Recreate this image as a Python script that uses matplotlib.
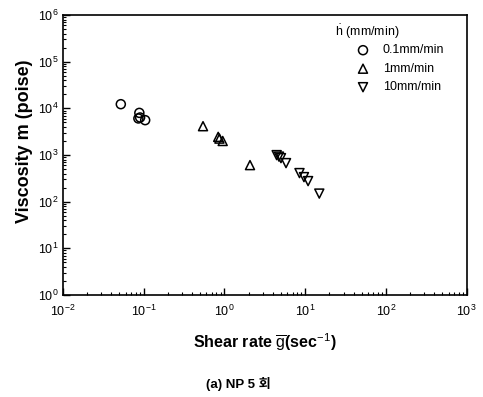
import matplotlib.pyplot as plt
from matplotlib.ticker import LogLocator, NullFormatter

plt.rcParams['font.family'] = ['Liberation Sans', 'DejaVu Sans']
plt.rcParams['mathtext.fontset'] = 'custom'
plt.rcParams['mathtext.rm'] = 'Liberation Sans'
plt.rcParams['mathtext.it'] = 'Liberation Sans:italic'
plt.rcParams['mathtext.bf'] = 'Liberation Sans:bold'

# shear rate (1/s) and viscosity (poise) for each crosshead speed
rate_01 = [0.0523, 0.0887, 0.0906, 0.1047, 0.0863]
visc_01 = [12300, 8010, 6380, 5590, 6080]

rate_1 = [0.545, 0.84, 0.87, 0.955, 2.08]
visc_1 = [4150, 2450, 2250, 2000, 608]

rate_10 = [4.45, 4.75, 5.03, 5.81, 8.53, 9.69, 10.9, 15.0]
visc_10 = [995, 924, 858, 671, 410, 336, 276, 149]

labels = ['0.1mm/min', '1mm/min', '10mm/min']

fig = plt.figure(figsize=(4.83, 3.97), dpi=100)
ax = fig.add_axes([0.130, 0.257, 0.836, 0.705])

kw = dict(facecolor='none', edgecolor='black', linewidths=1.1, s=42)
ax.scatter(rate_01, visc_01, marker='o', label=labels[0], **kw)
ax.scatter(rate_1, visc_1, marker='^', label=labels[1], **kw)
ax.scatter(rate_10, visc_10, marker='v', label=labels[2], **kw)

ax.set_xscale('log')
ax.set_yscale('log')
ax.set_xlim(1e-2, 1e3)
ax.set_ylim(1e0, 1e6)

ax.xaxis.set_major_locator(LogLocator(base=10, numticks=10))
ax.yaxis.set_major_locator(LogLocator(base=10, numticks=10))
ax.xaxis.set_minor_locator(LogLocator(base=10, subs=range(2, 10), numticks=20))
ax.yaxis.set_minor_locator(LogLocator(base=10, subs=range(2, 10), numticks=20))
ax.xaxis.set_minor_formatter(NullFormatter())
ax.yaxis.set_minor_formatter(NullFormatter())

ax.tick_params(which='both', direction='in', top=False, right=False, labelsize=9)
ax.tick_params(axis='x', pad=6)
ax.tick_params(axis='y', pad=3)
ax.tick_params(which='major', length=5, width=1)
ax.tick_params(which='minor', length=2.5, width=0.8)
for sp in ax.spines.values():
    sp.set_linewidth(1.2)

ax.set_xlabel(r'Shear rate $\overline{\mathrm{g}}$(sec$^{-1}$)', fontsize=11.5,
              fontweight='bold', labelpad=9)
ax.set_ylabel('Viscosity m (poise)', fontsize=13, fontweight='bold')
ax.yaxis.set_label_coords(-0.074, 0.55)

ax.text(0.674, 0.939, r'$\dot{\mathrm{h}}$ (mm/min)', transform=ax.transAxes,
        fontsize=9, ha='left', va='center')
ax.legend(loc='upper left', bbox_to_anchor=(0.728, 0.895), frameon=False,
          fontsize=9, handlelength=1.0, handletextpad=1.1, labelspacing=0.52,
          borderpad=0, borderaxespad=0, markerscale=1.0)

fig.text(0.493, 0.033, '(a) NP 5 회', ha='center', va='center', fontsize=9.5,
         fontweight='bold', family=['Liberation Sans', 'Noto Sans CJK KR'])

fig.savefig('out.png', dpi=100)
